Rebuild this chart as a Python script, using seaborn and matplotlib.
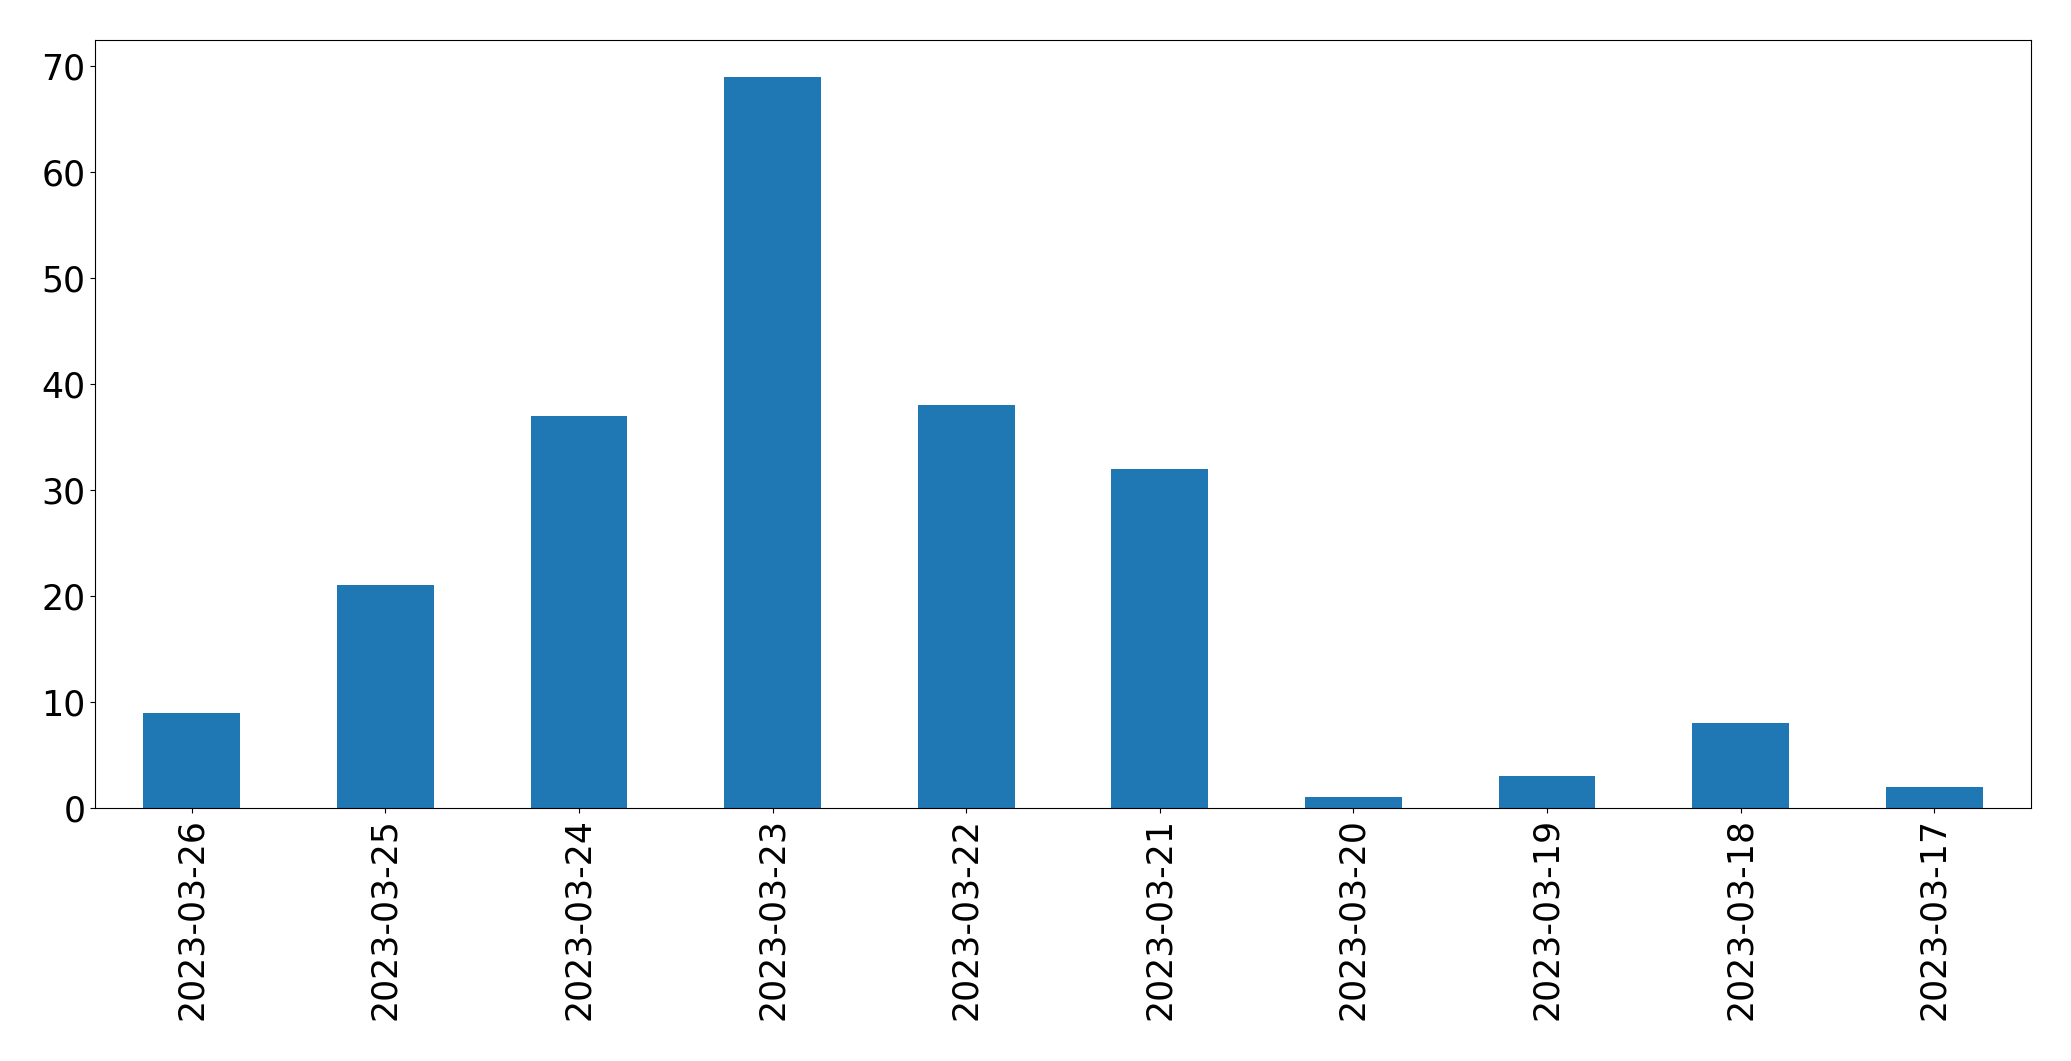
import matplotlib
matplotlib.use("Agg")
import matplotlib.pyplot as plt
import seaborn as sns
import pandas as pd

dates = ["2023-03-26", "2023-03-25", "2023-03-24", "2023-03-23", "2023-03-22",
         "2023-03-21", "2023-03-20", "2023-03-19", "2023-03-18", "2023-03-17"]
counts = [9, 21, 37, 69, 38, 32, 1, 3, 8, 2]

df = pd.DataFrame({"date": dates, "count": counts})

fig = plt.figure(figsize=(20.71, 10.61), dpi=100)
ax = fig.add_axes([95/2071, 1-808/1061, (2031-95)/2071, (808-40)/1061])
sns.barplot(data=df, x="date", y="count", order=dates, color="#1f77b4",
            saturation=1, width=0.5, ax=ax)
ax.set_xlim(-0.5, len(dates) - 0.5)
ax.set_ylim(0, max(counts) * 1.05)
ax.set_xlabel("")
ax.set_ylabel("")
ax.tick_params(axis="x", labelrotation=90, labelsize=25)
ax.tick_params(axis="y", labelsize=25)
for s in ax.spines.values():
    s.set_visible(True)
    s.set_color("black")
fig.savefig("out.png", dpi=100)
